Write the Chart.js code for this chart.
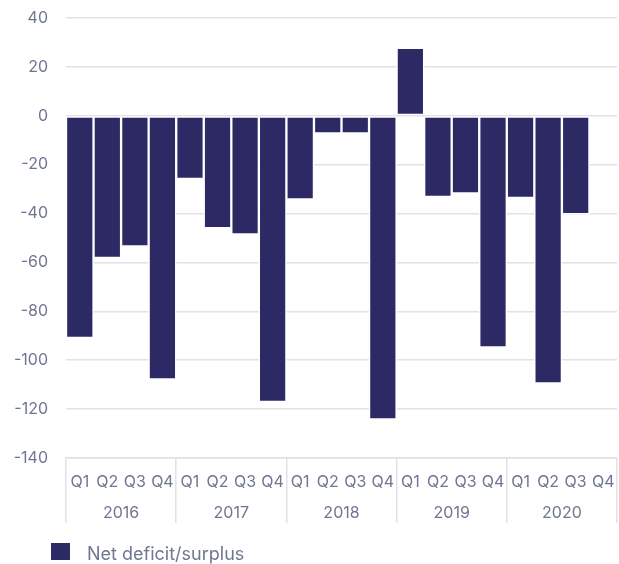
<!DOCTYPE html>
<html>
<head>
<meta charset="utf-8">
<script src="https://cdn.jsdelivr.net/npm/chart.js@4"></script>
<style>
  html, body { margin: 0; padding: 0; background: #fff; }
  #wrap { position: relative; width: 619px; height: 564px; }
  #legend { position: absolute; left: 51px; top: 543px; margin: 0; padding: 0; list-style: none;
    font-family: Inter, "Noto Sans", sans-serif; font-size: 18px; color: #6f7692; }
  #legend li { display: flex; align-items: center; height: 17px; }
  #legend .box { display: inline-block; width: 19px; height: 17px; margin-right: 17px; }
  #legend .text { position: relative; top: 2px; }
</style>
</head>
<body>
<div id="wrap">
  <canvas id="chart"></canvas>
  <ul id="legend"></ul>
</div>
<script>
const quarters = ['Q1', 'Q2', 'Q3', 'Q4'];
const years = ['2016', '2017', '2018', '2019', '2020'];
// one value per quarter, 2016 Q1 .. 2020 Q4 (last one not reported)
const netValues = [
  -90.9, -58.2, -53.4, -107.9,
  -25.8, -46.0, -48.5, -117.1,
  -34.2, -7.2, -7.2, -124.2,
  27.8, -33.2, -31.8, -94.8,
  -33.6, -109.5, -40.3, null
];
const yTicks = [40, 20, 0, -20, -40, -60, -80, -100, -120, -140];

const labels = [];
years.forEach(y => quarters.forEach(q => labels.push(q)));

const gridColor = '#e2e2e6';
const textColor = '#6f7692';
const barColor = '#2d2965';

Chart.defaults.font.family = 'Inter, "Noto Sans", sans-serif';
Chart.defaults.font.size = 16;
Chart.defaults.color = textColor;

const ctx = document.getElementById('chart').getContext('2d');

let chart = new Chart(ctx, {
  type: 'bar',
  data: {
    labels: labels,
    datasets: [{
      label: 'Net deficit/surplus',
      data: netValues,
      backgroundColor: barColor,
      borderColor: '#ffffff',
      borderWidth: 1.5,
      borderSkipped: false,
      barPercentage: 1,
      categoryPercentage: 1
    }]
  },
  options: {
    responsive: true,
    maintainAspectRatio: false,
    animation: false,
    layout: {
      padding: { left: 0, right: 2, top: 18, bottom: 33 }
    },
    plugins: {
      tooltip: { enabled: false },
      legend: { display: false }
    },
    scales: {
      y: {
        min: -140,
        max: 40,
        afterFit: s => {
          s.width = 66;
          s.paddingTop = 0;
          s.paddingBottom = 0;
        },
        afterBuildTicks: s => { s.ticks = yTicks.map(v => ({ value: v })); },
        ticks: { padding: 18 },
        border: { display: false },
        grid: { color: gridColor, lineWidth: 1.5, drawTicks: false }
      },
      x: {
        weight: 0,
        afterFit: s => { s.height = 33; },
        ticks: { padding: -50, autoSkip: false, maxRotation: 0 },
        border: { display: true, color: gridColor, width: 1.5 },
        grid: {
          offset: true,
          drawOnChartArea: false,
          tickLength: 65,
          lineWidth: 1.5,
          // only mark the year boundaries
          color: c => (c.index === undefined || c.index % 4 === 0) ? gridColor : 'rgba(0,0,0,0)'
        }
      },
      x2: {
        type: 'category',
        position: 'bottom',
        weight: 1,
        labels: years,
        offset: true,
        afterFit: s => { s.height = 40; },
        ticks: { padding: 13, autoSkip: false, maxRotation: 0 },
        border: { display: false },
        grid: { display: false, drawTicks: false }
      }
    }
  }
});

// legend as html under the chart
const legend = document.getElementById('legend');
chart.data.datasets.forEach(ds => {
  const li = document.createElement('li');
  li.innerHTML = `<span class="box" style="background:${ds.backgroundColor}"></span><span class="text">${ds.label}</span>`;
  legend.appendChild(li);
});
</script>
</body>
</html>
